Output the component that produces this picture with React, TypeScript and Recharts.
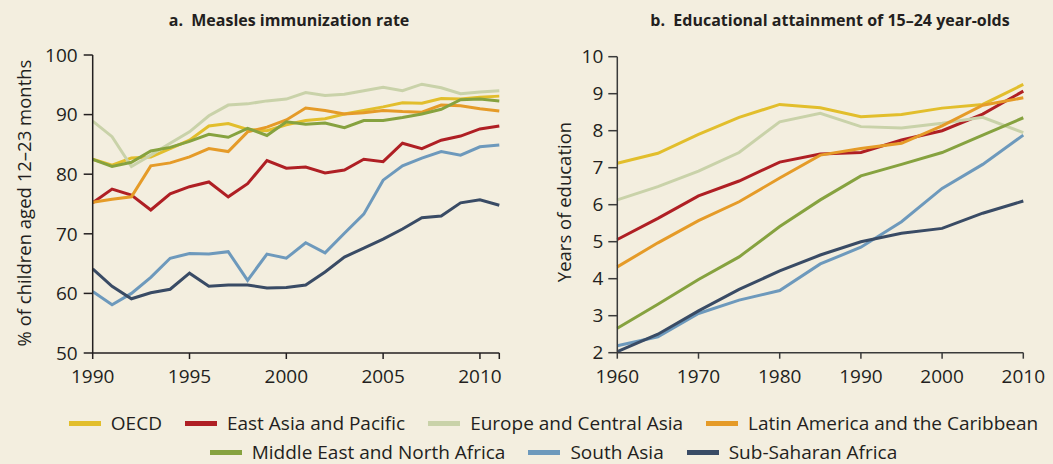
import React from 'react';
import { LineChart, Line, XAxis, YAxis } from 'recharts';

// ---------- Data ----------
const seriesNames = [
  'OECD',
  'East Asia and Pacific',
  'Europe and Central Asia',
  'Latin America and the Caribbean',
  'Middle East and North Africa',
  'South Asia',
  'Sub-Saharan Africa',
];
const seriesKeys = ['oecd', 'eap', 'eca', 'lac', 'mena', 'sa', 'ssa'];
const seriesColors = ['#E2BE2C', '#AF1F24', '#C9D2A9', '#E59B28', '#86A23F', '#6D99BC', '#394B65'];

// Panel a: measles immunization rate, 1990-2011
const yearsA = [1990, 1991, 1992, 1993, 1994, 1995, 1996, 1997, 1998, 1999, 2000, 2001, 2002, 2003, 2004, 2005, 2006, 2007, 2008, 2009, 2010, 2011];
const oecdA = [82.5, 81.5, 82.7, 82.9, 84.3, 85.7, 88.1, 88.5, 87.5, 87.3, 88.3, 89.0, 89.3, 90.1, 90.7, 91.3, 92.0, 91.9, 92.7, 92.6, 92.9, 93.1];
const eapA = [75.2, 77.5, 76.5, 74.0, 76.7, 77.9, 78.7, 76.2, 78.4, 82.3, 81.0, 81.2, 80.2, 80.7, 82.5, 82.1, 85.2, 84.3, 85.7, 86.4, 87.6, 88.1];
const ecaA = [88.9, 86.3, 81.3, 83.2, 85.2, 87.1, 89.8, 91.6, 91.8, 92.3, 92.6, 93.7, 93.2, 93.4, 94.0, 94.6, 94.0, 95.1, 94.5, 93.5, 93.8, 94.0];
const lacA = [75.3, 75.8, 76.2, 81.4, 81.9, 82.9, 84.3, 83.8, 87.1, 87.9, 89.1, 91.1, 90.7, 90.1, 90.3, 90.7, 90.5, 90.4, 91.6, 91.5, 91.0, 90.6];
const menaA = [82.5, 81.3, 82.0, 83.9, 84.5, 85.5, 86.7, 86.2, 87.7, 86.5, 88.8, 88.4, 88.6, 87.8, 89.0, 89.0, 89.5, 90.1, 90.9, 92.5, 92.6, 92.3];
const saA = [60.3, 58.1, 60.0, 62.7, 65.9, 66.7, 66.6, 67.0, 62.2, 66.6, 65.9, 68.5, 66.8, 70.1, 73.3, 79.0, 81.4, 82.7, 83.8, 83.2, 84.6, 84.9];
const ssaA = [64.1, 61.2, 59.1, 60.1, 60.7, 63.4, 61.2, 61.4, 61.4, 60.9, 61.0, 61.4, 63.6, 66.1, 67.6, 69.1, 70.8, 72.7, 73.0, 75.2, 75.7, 74.8];
const xTicksA = [1990, 1995, 2000, 2005, 2010, 2011];
const yTicksA = [50, 60, 70, 80, 90, 100];

// Panel b: educational attainment of 15-24 year-olds, 1960-2010
const yearsB = [1960, 1965, 1970, 1975, 1980, 1985, 1990, 1995, 2000, 2005, 2010];
const oecdB = [7.12, 7.39, 7.90, 8.36, 8.71, 8.62, 8.38, 8.44, 8.61, 8.71, 9.25];
const eapB = [5.06, 5.63, 6.24, 6.64, 7.15, 7.37, 7.41, 7.75, 8.00, 8.45, 9.07];
const ecaB = [6.13, 6.49, 6.91, 7.41, 8.24, 8.47, 8.11, 8.07, 8.20, 8.36, 7.95];
const lacB = [4.32, 4.97, 5.57, 6.08, 6.72, 7.34, 7.52, 7.66, 8.13, 8.69, 8.89];
const menaB = [2.66, 3.31, 3.98, 4.59, 5.41, 6.13, 6.78, 7.09, 7.41, 7.88, 8.35];
const saB = [2.19, 2.43, 3.06, 3.42, 3.68, 4.40, 4.85, 5.54, 6.44, 7.09, 7.88];
const ssaB = [2.03, 2.50, 3.13, 3.71, 4.21, 4.64, 5.00, 5.23, 5.36, 5.77, 6.10];
const xTicksB = [1960, 1970, 1980, 1990, 2000, 2010];
const yTicksB = [2, 3, 4, 5, 6, 7, 8, 9, 10];

const buildRows = (years: number[], cols: number[][]) =>
  years.map((y, i) => {
    const row: Record<string, number> = { year: y };
    seriesKeys.forEach((k, j) => {
      row[k] = cols[j][i];
    });
    return row;
  });

const dataA = buildRows(yearsA, [oecdA, eapA, ecaA, lacA, menaA, saA, ssaA]);
const dataB = buildRows(yearsB, [oecdB, eapB, ecaB, lacB, menaB, saB, ssaB]);

// ---------- Styles ----------
const BG = '#F3EEDF';
const FONT = '"Open Sans", "Noto Sans", sans-serif';
const TEXT = '#231F20';
const tickStyle = { fill: TEXT, fontSize: 19, fontFamily: FONT };

const lines = (width: number) =>
  seriesKeys.map((k, i) => (
    <Line
      key={k}
      type="linear"
      dataKey={k}
      name={seriesNames[i]}
      stroke={seriesColors[i]}
      strokeWidth={width}
      dot={false}
      activeDot={false}
      isAnimationActive={false}
    />
  ));

export default function App() {
  const legendRow1 = [0, 1, 2, 3];
  const legendRow2 = [4, 5, 6];
  const legendItem = (i: number) => (
    <div key={i} style={{ display: 'flex', alignItems: 'center', marginRight: 23 }}>
      <span style={{ display: 'inline-block', width: 32, height: 5, background: seriesColors[i], marginRight: 10 }} />
      <span style={{ fontSize: 19, color: TEXT, whiteSpace: 'nowrap' }}>{seriesNames[i]}</span>
    </div>
  );
  return (
    <div style={{ position: 'absolute', left: 0, top: 0, width: 1053, height: 464, background: BG, fontFamily: FONT, overflow: 'hidden' }}>
      {/* Titles */}
      <div style={{ position: 'absolute', left: 289, top: 20, transform: 'translate(-50%,-50%)', fontWeight: 700, fontSize: 16, color: TEXT, whiteSpace: 'nowrap' }}>
        a.&nbsp; Measles immunization rate
      </div>
      <div style={{ position: 'absolute', left: 830, top: 20, transform: 'translate(-50%,-50%)', fontWeight: 700, fontSize: 16, color: TEXT, whiteSpace: 'nowrap' }}>
        b.&nbsp; Educational attainment of 15–24 year-olds
      </div>
      {/* Y labels */}
      <div style={{ position: 'absolute', left: 23, top: 203, transform: 'translate(-50%,-50%) rotate(-90deg)', fontSize: 18.5, color: TEXT, whiteSpace: 'nowrap' }}>
        % of children aged 12–23 months
      </div>
      <div style={{ position: 'absolute', left: 563, top: 202, transform: 'translate(-50%,-50%) rotate(-90deg)', fontSize: 18.5, color: TEXT, whiteSpace: 'nowrap' }}>
        Years of education
      </div>

      {/* Panel a */}
      <div style={{ position: 'absolute', left: 0, top: 0 }}>
        <LineChart width={530} height={400} data={dataA} margin={{ top: 55, right: 30.7, bottom: 17, left: 32.7 }}>
          <XAxis
            dataKey="year"
            type="number"
            domain={[1990, 2011]}
            ticks={xTicksA}
            interval={0}
            tickFormatter={(v: number) => (v === 2011 ? '' : String(v))}
            tick={tickStyle}
            tickSize={6}
            tickMargin={11}
            height={30}
            stroke={TEXT}
            strokeWidth={1.5}
            allowDecimals={false}
          />
          <YAxis
            type="number"
            domain={[50, 100]}
            ticks={yTicksA}
            interval={0}
            tick={tickStyle}
            tickSize={9}
            tickMargin={6}
            width={60}
            stroke={TEXT}
            strokeWidth={1.5}
          />
          {lines(3)}
        </LineChart>
      </div>

      {/* Panel b */}
      <div style={{ position: 'absolute', left: 530, top: 0 }}>
        <LineChart width={523} height={400} data={dataB} margin={{ top: 56.7, right: 29.7, bottom: 17.3, left: 27.3 }}>
          <XAxis
            dataKey="year"
            type="number"
            domain={[1960, 2010]}
            ticks={xTicksB}
            interval={0}
            tick={tickStyle}
            tickSize={6}
            tickMargin={11}
            height={30}
            stroke="#3A3A3A"
            strokeWidth={1.5}
          />
          <YAxis
            type="number"
            domain={[2, 10]}
            ticks={yTicksB}
            interval={0}
            tick={tickStyle}
            tickSize={9}
            tickMargin={5}
            width={60}
            stroke="#3A3A3A"
            strokeWidth={1.5}
          />
          {lines(3)}
        </LineChart>
      </div>

      {/* Legend */}
      <div style={{ position: 'absolute', left: 73, top: 410, width: 984, display: 'flex', justifyContent: 'center' }}>
        {legendRow1.map(legendItem)}
      </div>
      <div style={{ position: 'absolute', left: 73, top: 439, width: 984, display: 'flex', justifyContent: 'center' }}>
        {legendRow2.map(legendItem)}
      </div>
    </div>
  );
}
